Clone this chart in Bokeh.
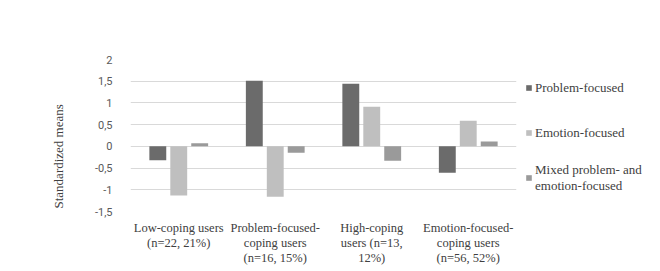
from bokeh.plotting import figure
from bokeh.models import ColumnDataSource, FixedTicker, CustomJSTickFormatter, Legend, LegendItem, Title
from bokeh.transform import dodge
from bokeh.embed import file_html
from bokeh.resources import INLINE

categories = [
    "Low-coping users\n(n=22, 21%)",
    "Problem-focused-\ncoping users\n(n=16, 15%)",
    "High-coping\nusers (n=13,\n12%)",
    "Emotion-focused-\ncoping users\n(n=56, 52%)",
]
problem_focused = [-0.32, 1.51, 1.44, -0.61]
emotion_focused = [-1.13, -1.16, 0.91, 0.59]
mixed_focused = [0.07, -0.15, -0.33, 0.11]
series_names = ["Problem-focused", "Emotion-focused", "Mixed problem- and\nemotion-focused"]
y_ticks = [-1.5, -1, -0.5, 0, 0.5, 1, 1.5, 2]
y_title = "Standardized means"

src = ColumnDataSource(dict(cat=categories, pf=problem_focused, ef=emotion_focused, mx=mixed_focused))

p = figure(frame_width=386, frame_height=152, x_range=categories, y_range=(-1.5, 2),
           output_backend="svg", toolbar_location=None,
           min_border_left=130, min_border_right=0, min_border_top=59, min_border_bottom=0)
p.outline_line_color = None

colors = ["#6b6b6b", "#bfbfbf", "#9a9a9a"]
fields = ["pf", "ef", "mx"]
offsets = [-0.217, 0.0, 0.217]
renderers = []
for f, off, c in zip(fields, offsets, colors):
    r = p.vbar(x=dodge("cat", off, range=p.x_range), top=f, bottom=0, width=0.175,
               source=src, fill_color=c, line_color=None)
    renderers.append(r)

p.xgrid.grid_line_color = None
p.ygrid.grid_line_color = "#d9d9d9"
p.ygrid.ticker = FixedTicker(ticks=y_ticks)

p.yaxis.ticker = FixedTicker(ticks=y_ticks)
p.yaxis.formatter = CustomJSTickFormatter(code="return tick.toString().replace('.', ',');")
p.yaxis.axis_line_color = None
p.yaxis.major_tick_line_color = None
p.yaxis.minor_tick_line_color = None
p.yaxis.major_label_text_font = "Roboto"
p.yaxis.major_label_text_font_size = "11px"
p.yaxis.major_label_text_color = "#595959"
p.yaxis.major_label_standoff = 12

ytitle = Title(text=y_title, align="left", offset=3, standoff=52,
               text_font="Liberation Serif", text_font_style="normal",
               text_font_size="13px", text_color="#404040")
p.add_layout(ytitle, "left")

p.xaxis.axis_line_color = None
p.xaxis.major_tick_line_color = None
p.xaxis.minor_tick_line_color = None
p.xaxis.major_label_text_font = "Liberation Serif"
p.xaxis.major_label_text_font_size = "12.5px"
p.xaxis.major_label_text_color = "#404040"
p.xaxis.major_label_text_line_height = 1.1
p.xaxis.major_label_standoff = 3

items = [LegendItem(label=n, renderers=[r]) for n, r in zip(series_names, renderers)]
legend = Legend(items=items, location="top_left", orientation="vertical")
legend.border_line_color = None
legend.background_fill_alpha = 0
legend.glyph_width = 7
legend.glyph_height = 7
legend.label_height = 39
legend.spacing = 6
legend.padding = 2
legend.margin = 9
legend.label_standoff = 3
legend.label_text_font = "Liberation Serif"
legend.label_text_font_size = "13px"
legend.label_text_color = "#404040"
p.add_layout(legend, "right")

open("out.html", "w").write(file_html(p, INLINE))
